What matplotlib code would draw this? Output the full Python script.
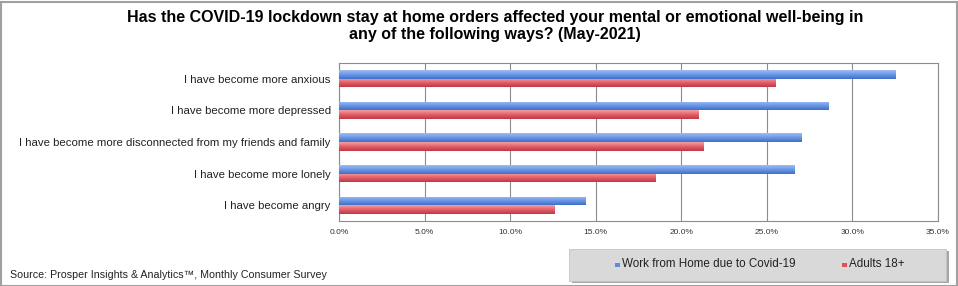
import matplotlib
matplotlib.use("Agg")
import matplotlib.pyplot as plt
from matplotlib.patches import Rectangle
from matplotlib.colors import LinearSegmentedColormap
import numpy as np

categories = ["I have become more anxious", "I have become more depressed",
              "I have become more disconnected from my friends and family",
              "I have become more lonely", "I have become angry"]
wfh = [32.5, 28.6, 27.0, 26.6, 14.4]
adults = [25.5, 21.0, 21.3, 18.5, 12.6]
series_names = ["Work from Home due to Covid-19", "Adults 18+"]
xticks = [0, 5, 10, 15, 20, 25, 30, 35]
xticklabels = ["0.0%", "5.0%", "10.0%", "15.0%", "20.0%", "25.0%", "30.0%", "35.0%"]

plt.rcParams['font.family'] = ["Liberation Sans", "DejaVu Sans"]

fig = plt.figure(figsize=(9.58, 2.86), dpi=100)
W, H = 958, 286
ax = fig.add_axes([339 / W, 1 - 221 / H, (938 - 339) / W, (221 - 63) / H])

y = np.arange(len(categories))
bh = 0.27
blue = "#5B8CE0"
red = "#E0505C"
cm_blue = LinearSegmentedColormap.from_list("b", ["#9DBDF2", "#6A98E6", "#3E6FC9"])
cm_red = LinearSegmentedColormap.from_list("r", ["#F4A0A6", "#E45E68", "#C03844"])
b1 = ax.barh(y - bh / 2, wfh, height=bh, color=blue, edgecolor="none", zorder=3)
b2 = ax.barh(y + bh / 2, adults, height=bh, color=red, edgecolor="none", zorder=3)
grad = np.linspace(0, 1, 64).reshape(-1, 1)
for bars, cm in ((b1, cm_blue), (b2, cm_red)):
    for p in bars:
        x0, y0 = p.get_x(), p.get_y()
        w, h = p.get_width(), p.get_height()
        im = ax.imshow(grad, cmap=cm, aspect="auto", extent=(x0, x0 + w, y0 + h, y0),
                       origin="upper", zorder=4, interpolation="bilinear")
        im.set_clip_path(p)
ax.set_ylim(len(categories) - 0.5, -0.5)
ax.set_xlim(0, 35)
ax.set_xticks(xticks)
ax.set_xticklabels(xticklabels, fontsize=6, color="#333333")
ax.set_yticks(y)
ax.set_yticklabels(categories, fontsize=8.2, color="#222222")
ax.tick_params(axis='both', length=0, pad=6)
ax.tick_params(axis='x', pad=6)
ax.grid(axis='x', color="#8C8C8C", linewidth=0.8, zorder=0)
ax.set_axisbelow(True)
for s in ax.spines.values():
    s.set_color("#8C8C8C")
    s.set_linewidth(0.8)

fig.text(495 / W, 1 - 26 / H, "Has the COVID-19 lockdown stay at home orders affected your mental or emotional well-being in\nany of the following ways? (May-2021)",
         ha="center", va="center", fontsize=11.5, fontweight="bold", linespacing=1.2)

fig.text(10 / W, 1 - 275 / H, "Source: Prosper Insights & Analytics\u2122, Monthly Consumer Survey",
         ha="left", va="center", fontsize=7.7, color="#222222")

# legend box with shadow
fig.patches.append(Rectangle((572 / W, 1 - 283 / H), (949 - 572) / W, 32 / H, transform=fig.transFigure,
                             facecolor="#A8A8A8", edgecolor="none", zorder=1))
fig.patches.append(Rectangle((569 / W, 1 - 280.5 / H), (946 - 569) / W, 32 / H, transform=fig.transFigure,
                             facecolor="#D9D9D9", edgecolor="#C4C4C4", linewidth=0.6, zorder=2))
fig.patches.append(Rectangle((615 / W, 1 - 266.5 / H), 5 / W, 4 / H, transform=fig.transFigure,
                             facecolor=blue, edgecolor="none", zorder=3))
fig.text(622 / W, 1 - 264 / H, series_names[0], ha="left", va="center", fontsize=8.4, color="#222222", zorder=4)
fig.patches.append(Rectangle((842 / W, 1 - 266.5 / H), 5 / W, 4 / H, transform=fig.transFigure,
                             facecolor=red, edgecolor="none", zorder=3))
fig.text(849 / W, 1 - 264 / H, series_names[1], ha="left", va="center", fontsize=8.4, color="#222222", zorder=4)

# outer frame
fig.patches.append(Rectangle((0.5 / W, 0.5 / H), (W - 2) / W, (H - 2) / H, transform=fig.transFigure,
                             facecolor="none", edgecolor="#A0A0A0", linewidth=1.5, zorder=5))

fig.savefig("out.png", dpi=100)
